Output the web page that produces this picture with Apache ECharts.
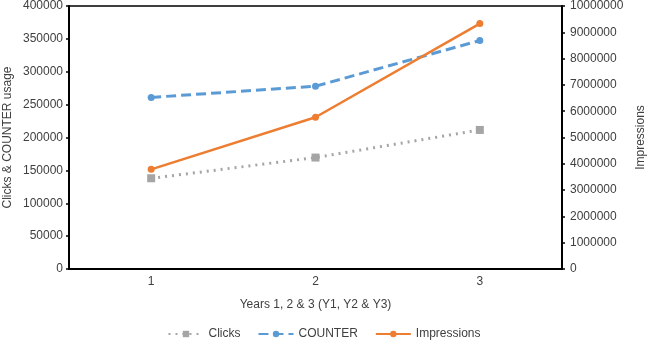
<!DOCTYPE html>
<html>
<head>
<meta charset="utf-8">
<script src="https://cdn.jsdelivr.net/npm/echarts@6/dist/echarts.min.js"></script>
<style>
  html, body { margin: 0; padding: 0; background: #fff; }
  #chart { width: 648px; height: 348px; }
</style>
</head>
<body>
<div id="chart"></div>
<script>
// ----------data----------
const categories = ['1', '2', '3'];
const clicks = [138000, 169500, 211500];
const counter = [261000, 278000, 347500];
const impressions = [3790000, 5770000, 9330000];
// ------------------------

const chart = echarts.init(document.getElementById('chart'));

const font = 'Liberation Sans, Arial';
const axisLabel = { color: '#404040', fontSize: 12, fontFamily: font, formatter: (v) => String(v) };
const axisName = { color: '#404040', fontSize: 12, fontFamily: font };

chart.setOption({
  backgroundColor: '#fff',
  animation: false,
  grid: {
    left: 69, right: 86, top: 6, bottom: 79,
    outerBoundsMode: 'none',
    containLabel: false,
    show: true, borderColor: '#000', borderWidth: 1.5,
  },
  legend: {
    top: 323,
    left: 'center',
    itemWidth: 35,
    itemHeight: 8,
    itemGap: 17,
    textStyle: { color: '#404040', fontSize: 12, fontFamily: font },
    data: ['Clicks', 'COUNTER', 'Impressions'],
  },
  xAxis: {
    type: 'category',
    data: categories,
    boundaryGap: true,
    name: 'Years 1, 2 & 3 (Y1, Y2 & Y3)',
    nameLocation: 'center',
    nameGap: 30,
    nameMoveOverlap: false,
    nameTextStyle: axisName,
    axisLine: { lineStyle: { color: '#000', width: 2 } },
    axisTick: { inside: false, length: 3, lineStyle: { color: '#000', width: 1.5 } },
    axisLabel: { ...axisLabel, formatter: null, margin: 7 },
  },
  yAxis: [
    {
      type: 'value',
      min: 0, max: 400000, interval: 50000,
      name: 'Clicks & COUNTER usage',
      nameLocation: 'center',
      nameGap: 55,
      nameMoveOverlap: false,
      nameTextStyle: axisName,
      axisLine: { show: true, lineStyle: { color: '#000', width: 2 } },
      axisTick: { show: true, length: 3, lineStyle: { color: '#000', width: 1.5 } },
      axisLabel: { ...axisLabel, margin: 6 },
      splitLine: { show: false },
    },
    {
      type: 'value',
      min: 0, max: 10000000, interval: 1000000,
      name: 'Impressions',
      nameLocation: 'center',
      nameGap: 73,
      nameMoveOverlap: false,
      nameTextStyle: axisName,
      axisLine: { show: true, lineStyle: { color: '#000', width: 2 } },
      axisTick: { show: true, length: 3, lineStyle: { color: '#000', width: 1.5 } },
      axisLabel: { ...axisLabel, margin: 8 },
      splitLine: { show: false },
    },
  ],
  series: [
    {
      name: 'Clicks',
      type: 'line',
      yAxisIndex: 0,
      data: clicks,
      symbol: 'rect',
      symbolSize: 8,
      itemStyle: { color: '#A5A5A5' },
      lineStyle: { color: '#A5A5A5', width: 3, type: [2, 5] },
      z: 2,
    },
    {
      name: 'COUNTER',
      type: 'line',
      yAxisIndex: 0,
      data: counter,
      symbol: 'circle',
      symbolSize: 7,
      itemStyle: { color: '#5B9BD5' },
      lineStyle: { color: '#5B9BD5', width: 3, type: [10, 5] },
      z: 3,
    },
    {
      name: 'Impressions',
      type: 'line',
      yAxisIndex: 1,
      data: impressions,
      symbol: 'circle',
      symbolSize: 7,
      itemStyle: { color: '#ED7D31' },
      lineStyle: { color: '#ED7D31', width: 2.5 },
      z: 4,
    },
  ],
});
</script>
</body>
</html>
